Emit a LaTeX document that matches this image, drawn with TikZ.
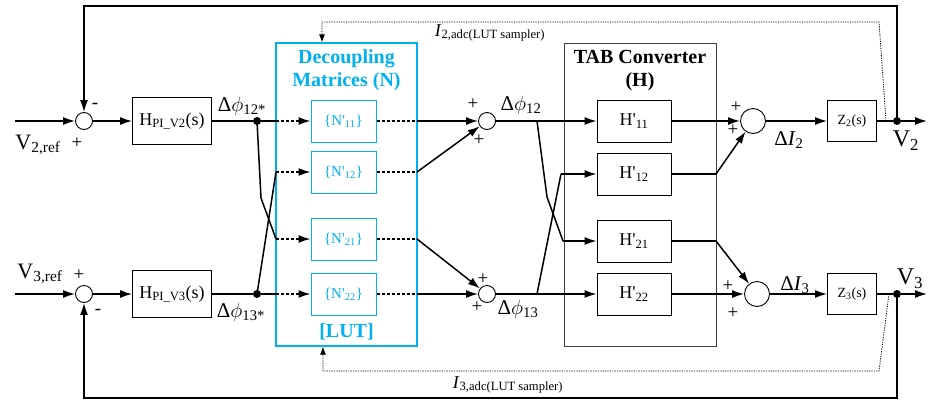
\documentclass[tikz,border=0pt]{standalone}
\usepackage{fontspec}
\setmainfont{Liberation Serif}
\usetikzlibrary{arrows.meta}
\definecolor{lutblue}{RGB}{0,176,240}
\newcommand{\fs}[1]{\fontsize{#1}{#1}\selectfont}
\tikzset{
	wire/.style={line width=1.5pt},
	arr/.style={-{Latex[length=12pt,width=8pt]}},
	sarr/.style={-{Latex[length=8pt,width=6pt]}},
	samp/.style={line width=0.8pt, dash pattern=on 1.2pt off 1.2pt},
	nline/.style={line width=1.5pt, dash pattern=on 3pt off 2pt},
	sumnode/.style={circle, draw, line width=0.9pt, minimum size=17pt, inner sep=0pt},
	bigsum/.style={sumnode, minimum size=25pt},
	pibox/.style={draw, line width=0.8pt, minimum width=79pt, minimum height=47pt, inner sep=0pt, font=\fs{18}},
	nbox/.style={draw=lutblue, text=lutblue, line width=1pt, minimum width=65pt, minimum height=42pt, inner sep=0pt, font=\fs{15}},
	hbox/.style={draw, line width=0.8pt, minimum width=74pt, minimum height=42pt, inner sep=0pt, font=\fs{18}},
	zbox/.style={draw, line width=0.8pt, minimum width=49pt, minimum height=41pt, inner sep=0pt, font=\fs{14}},
	jdot/.style={circle, fill, inner sep=0pt, minimum size=8pt},
	sgn/.style={inner sep=0pt, font=\fs{19}},
	lbl/.style={inner sep=0pt, font=\fs{21}},
	title/.style={align=center, inner sep=0pt, font=\bfseries\fontsize{20}{23}\selectfont},
}
\begin{document}
\begin{tikzpicture}[x=1pt, y=-1pt]
	\useasboundingbox (0,0) rectangle (928,405);
	% Frames:
	\node[draw=lutblue, line width=1.3pt, minimum width=141pt, minimum height=303pt] (lut) at (346.5,194.5){};
	\node[draw=black!75, line width=0.9pt, minimum width=152pt, minimum height=303pt] (tab) at (640,194.5){};
	\node[title, text=lutblue] (luttitle) at (346.5,70){Decoupling\\Matrices (N)};
	\node[title, text=lutblue] (lutname) at (346.5,332){[LUT]};
	\node[title] (tabtitle) at (640,71){TAB Converter\\(H)};
	% Blocks:
	\node[sumnode] (sumA) at (84,121){};
	\node[sumnode] (sumB) at (84,294){};
	\node[pibox] (hpiA) at (172,121){H\textsubscript{PI\_V2}(s)};
	\node[pibox] (hpiB) at (172,294){H\textsubscript{PI\_V3}(s)};
	\node[jdot] (dotA) at (257,121){};
	\node[jdot] (dotB) at (257,294){};
	\node[nbox] (nA) at (343.5,121){\{N\textquotesingle\textsubscript{11}\}};
	\node[nbox] (nB) at (343.5,172){\{N\textquotesingle\textsubscript{12}\}};
	\node[nbox] (nC) at (343.5,239){\{N\textquotesingle\textsubscript{21}\}};
	\node[nbox] (nD) at (343.5,294){\{N\textquotesingle\textsubscript{22}\}};
	\node[sumnode] (sumC) at (487,121){};
	\node[sumnode] (sumD) at (487,294){};
	\node[hbox] (hA) at (634,121){H\textquotesingle\textsubscript{11}};
	\node[hbox] (hB) at (634,174){H\textquotesingle\textsubscript{12}};
	\node[hbox] (hC) at (634,241){H\textquotesingle\textsubscript{21}};
	\node[hbox] (hD) at (634,294){H\textquotesingle\textsubscript{22}};
	\node[bigsum] (sumE) at (753,121){};
	\node[bigsum] (sumF) at (757,294){};
	\node[zbox] (zA) at (852,121){Z\textsubscript{2}(s)};
	\node[zbox] (zB) at (852,294){Z\textsubscript{3}(s)};
	\node[jdot] (vA) at (897,121){};
	\node[jdot] (vB) at (897,294){};
	% Points on the wires:
	\coordinate (inA) at (15,121);
	\coordinate (inB) at (15,294);
	\coordinate (bdA) at (276,121);
	\coordinate (bdB) at (276,172);
	\coordinate (bdC) at (276,239);
	\coordinate (bdD) at (276,294);
	\coordinate (kA) at (261,198);
	\coordinate (oA) at (417,121);
	\coordinate (oB) at (417,172);
	\coordinate (oC) at (417,239);
	\coordinate (oD) at (417,294);
	\coordinate (tA) at (537,121);
	\coordinate (tK) at (547,197);
	\coordinate (tC) at (563,241);
	\coordinate (tD) at (537,294);
	\coordinate (tB) at (561,174);
	\coordinate (pB) at (716,174);
	\coordinate (pC) at (716,241);
	\coordinate (outA) at (927,121);
	\coordinate (outB) at (927,294);
	\coordinate (fbA) at (897,6);
	\coordinate (fbB) at (84,6);
	\coordinate (fbC) at (897,398);
	\coordinate (fbD) at (84,398);
	\coordinate (sA) at (886,121);
	\coordinate (sA2) at (879,22);
	\coordinate (sA3) at (322,22);
	\coordinate (sB) at (889,294);
	\coordinate (sB2) at (879,371);
	\coordinate (sB3) at (323,371);
	% Paths and wires:
	\draw[wire, arr] (inA) -- (sumA);
	\draw[wire, arr] (inB) -- (sumB);
	\draw[wire, arr] (sumA) -- (hpiA);
	\draw[wire, arr] (sumB) -- (hpiB);
	\draw[wire] (hpiA) -- (dotA) -- (bdA);
	\draw[wire] (hpiB) -- (dotB) -- (bdD);
	\draw[wire] (dotA.center) -- (kA) -- (bdC);
	\draw[wire] (dotB.center) -- (bdB);
	\draw[nline, arr] (bdA) -- (nA);
	\draw[nline, arr] (bdB) -- (nB);
	\draw[nline, arr] (bdC) -- (nC);
	\draw[nline, arr] (bdD) -- (nD);
	\draw[nline] (nA) -- (oA);
	\draw[nline] (nB) -- (oB);
	\draw[nline] (nC) -- (oC);
	\draw[nline] (nD) -- (oD);
	\draw[wire, arr] (oA) -- (sumC);
	\draw[wire, arr] (oB) -- (sumC);
	\draw[wire, arr] (oC) -- (sumD);
	\draw[wire, arr] (oD) -- (sumD);
	\draw[wire, arr] (sumC) -- (hA);
	\draw[wire, arr] (sumD) -- (hD);
	\draw[wire] (tA) -- (tK) -- (tC);
	\draw[wire, arr] (tC) -- (hC);
	\draw[wire] (tD) -- (tB);
	\draw[wire, arr] (tB) -- (hB);
	\draw[wire, arr] (hA) -- (sumE);
	\draw[wire] (hB) -- (pB);
	\draw[wire, arr] (pB) -- (sumE);
	\draw[wire] (hC) -- (pC);
	\draw[wire, arr] (pC) -- (sumF);
	\draw[wire, arr] (hD) -- (sumF);
	\draw[wire, arr] (sumE) -- (zA);
	\draw[wire, arr] (sumF) -- (zB);
	\draw[wire] (zA) -- (vA);
	\draw[wire] (zB) -- (vB);
	\draw[wire, arr] (vA) -- (outA);
	\draw[wire, arr] (vB) -- (outB);
	\draw[wire, arr] (vA.center) -- (fbA) -- (fbB) -- (sumA);
	\draw[wire, arr] (vB.center) -- (fbC) -- (fbD) -- (sumB);
	\draw[samp, sarr] (sA) -- (sA2) -- (sA3) -- (sA3 |- lut.north);
	\draw[samp, sarr] (sB) -- (sB2) -- (sB3) -- (sB3 |- lut.south);
	% Labels and signs:
	\node[lbl, font=\fs{22}] (vrefA) at (38,145){V\textsubscript{2,ref}};
	\node[lbl, font=\fs{22}] (vrefB) at (40,274){V\textsubscript{3,ref}};
	\node[sgn] (sgA1) at (95,106){-};
	\node[sgn] (sgA2) at (77,143){+};
	\node[sgn] (sgB1) at (79,275){+};
	\node[sgn] (sgB2) at (98,312){-};
	\node[lbl] (phiA) at (242,106){Δ$\phi$\textsubscript{12*}};
	\node[lbl] (phiB) at (241,312){Δ$\phi$\textsubscript{13*}};
	\node[sgn] (sgC1) at (473,104){+};
	\node[sgn] (sgC2) at (479,140){+};
	\node[sgn] (sgD1) at (483,279){+};
	\node[sgn] (sgD2) at (477,307){+};
	\node[lbl] (phiC) at (521,105){Δ$\phi$\textsubscript{12}};
	\node[lbl] (phiD) at (518,309){Δ$\phi$\textsubscript{13}};
	\node[sgn] (sgE1) at (736,107){+};
	\node[sgn] (sgE2) at (733,130){+};
	\node[sgn] (sgF1) at (728,286){+};
	\node[sgn] (sgF2) at (733,313){+};
	\node[lbl] (diA) at (789,140){Δ\textit{I}\textsubscript{2}};
	\node[lbl] (diB) at (795,285){Δ\textit{I}\textsubscript{3}};
	\node[lbl, font=\fs{24}] (vA2) at (906,141){V\textsubscript{2}};
	\node[lbl, font=\fs{24}] (vB3) at (910,279){V\textsubscript{3}};
	\node[lbl, font=\fs{18}] (adcA) at (490,33){\textit{I}\textsubscript{2,adc(LUT sampler)}};
	\node[lbl, font=\fs{18}] (adcB) at (508,385){\textit{I}\textsubscript{3,adc(LUT sampler)}};
\end{tikzpicture}
\end{document}
